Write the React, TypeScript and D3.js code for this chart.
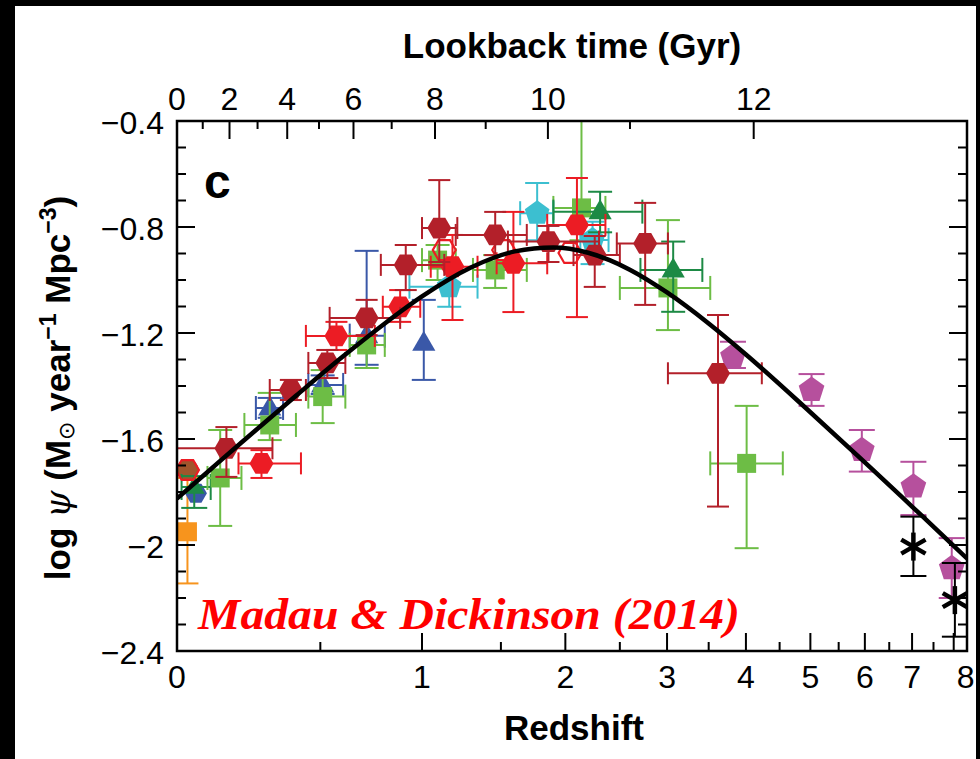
import React from "react";
import * as d3 from "d3";

// ---------------- data ----------------
// rows: [z, logPsi, zLo, zHi, logPsiLo, logPsiHi]; null = no bar
type Row = (number | null)[];

const gruppioni13: Row[] = [
  [0.15, -1.635, 0.0, 0.31, -1.743, -1.555],
  [0.38, -1.415, 0.30, 0.44, -1.453, -1.377],
  [0.53, -1.313, 0.45, 0.61, -1.370, -1.264],
  [0.71, -1.143, 0.54, 0.88, -1.208, -1.075],
  [0.91, -0.943, 0.78, 1.13, -1.038, -0.868],
  [1.10, -0.804, 1.00, 1.21, -0.932, -0.623],
  [1.46, -0.830, 1.20, 1.69, -0.906, -0.743],
  [1.86, -0.855, 1.55, 2.30, -0.932, -0.796],
  [2.26, -0.906, 2.07, 2.50, -1.026, -0.834],
  [2.76, -0.862, 2.47, 3.01, -1.094, -0.709],
  [3.62, -1.352, 3.01, 4.23, -1.855, -1.132],
];

const magnelli13: Row[] = [
  [0.27, -1.692, 0.19, 0.42, -1.747, -1.642],
  [0.57, -1.211, 0.44, 0.75, -1.264, -1.158],
  [0.88, -1.101, 0.79, 0.99, -1.158, -1.038],
  [1.18, -0.950, 1.05, 1.34, -1.151, -0.830],
  [1.59, -0.937, 1.47, 1.85, -1.121, -0.743],
  [2.10, -0.792, 1.85, 2.36, -1.140, -0.615],
];

const magnelli11: Row[] = [
  [0.03, -1.717, null, null, null, null],
  [1.13, -0.887, null, null, null, null],
  [1.52, -0.887, null, null, null, null],
  [2.04, -0.898, null, null, null, null],
];

const sanders03: Row[] = [[0.03, -1.717, null, null, null, null]];

const takeuchi05: Row[] = [[0.03, -1.950, null, null, -2.145, -1.747]];

const wyder05: Row[] = [[0.055, -1.805, null, null, null, null]];

const robotham11: Row[] = [[0.05, -1.781, 0.013, 0.1, -1.860, -1.74]];

const cucciati12: Row[] = [
  [0.13, -1.747, 0.09, 0.20, -1.928, -1.566],
  [0.30, -1.547, 0.21, 0.40, -1.604, -1.426],
  [0.51, -1.440, 0.45, 0.61, -1.540, -1.340],
  [0.71, -1.245, 0.63, 0.80, -1.332, -1.143],
  [1.09, -0.925, 1.00, 1.20, -1.000, -0.868],
  [1.46, -0.962, 1.31, 1.69, -1.030, -0.906],
  [2.14, -0.728, 1.90, 2.36, -0.850, -0.300],
  [3.01, -1.030, 2.50, 3.52, -1.189, -0.774],
  [4.01, -1.692, 3.52, 4.55, -2.012, -1.475],
];

const reddy09: Row[] = [
  [2.31, -0.742, 1.90, 2.73, -0.820, -0.667],
  [3.07, -0.962, 2.71, 3.42, -1.120, -0.855],
];

const schiminovich05: Row[] = [
  [0.30, -1.483, 0.25, 0.35, -1.520, -1.445],
  [0.51, -1.396, 0.45, 0.60, -1.430, -1.360],
  [0.71, -1.210, 0.63, 0.80, -1.320, -0.890],
  [1.01, -1.238, null, null, -1.377, -1.075],
];

const dahlen07: Row[] = [
  [1.16, -1.025, 0.93, 1.34, -1.101, -0.947],
  [1.77, -0.748, 1.64, 1.90, -0.850, -0.634],
  [2.24, -0.849, 2.13, 2.39, -0.940, -0.780],
];

const bouwens12: Row[] = [
  [3.82, -1.289, null, null, -1.332, -1.233],
  [5.02, -1.415, null, null, -1.475, -1.355],
  [5.94, -1.642, null, null, -1.723, -1.566],
  [7.03, -1.780, null, null, -1.887, -1.686],
  [7.95, -2.088, null, null, -2.200, -1.974],
];

const schenker13: Row[] = [
  [7.03, -2.006, null, null, -2.117, -1.893],
  [8.03, -2.208, null, null, -2.346, -2.068],
];

// best-fit curve, points: [z, logPsi]
const fitCurve: [number, number][] = [
  [0, -1.825], [0.1, -1.714], [0.2, -1.613], [0.4, -1.437], [0.6, -1.288],
  [0.8, -1.164], [1.0, -1.062], [1.3, -0.952], [1.45, -0.916], [1.6, -0.892],
  [1.9, -0.877], [2.2, -0.897], [2.4, -0.925], [2.6, -0.961], [3.0, -1.047],
  [3.5, -1.164], [4, -1.281], [5, -1.499], [6, -1.688], [7, -1.855],
  [8, -2.003], [8.345, -2.051],
];

const zTicksMajor = [0, 1, 2, 3, 4, 5, 6, 7, 8];
const zTicksMinor = [0.5, 1.5, 2.5, 3.5, 4.5, 5.5, 6.5, 7.5];
const yTicksMajor = [-0.4, -0.8, -1.2, -1.6, -2, -2.4];
const yTickLabels = ["\u22120.4", "\u22120.8", "\u22121.2", "\u22121.6", "\u22122", "\u22122.4"];
const gyrTicksMajor = [0, 2, 4, 6, 8, 10, 12];
const gyrTicksMinor = [1, 3, 5, 7, 9, 11];

// cosmology used for the lookback-time axis
const H0 = 70, Om = 0.3, OL = 0.7;

// ---------------- scales ----------------
const W = 980, H = 759;
const P = { left: 177, right: 967, top: 121, bottom: 651 };
const zMax = 8.345;
const xs = d3.scaleLog().domain([1, 1 + zMax]).range([P.left, P.right]);
const X = (z: number) => xs(1 + z);
const Y = d3.scaleLinear().domain([-2.4, -0.4]).range([P.bottom, P.top]);

const tH = 977.8 / H0;
function lookback(z: number) {
  const n = 400;
  const h = z / n;
  let s = 0;
  for (let i = 0; i <= n; i++) {
    const zz = i * h;
    const f = 1 / ((1 + zz) * Math.sqrt(Om * Math.pow(1 + zz, 3) + OL));
    s += i === 0 || i === n ? f : i % 2 ? 4 * f : 2 * f;
  }
  return (tH * s * h) / 3;
}
function zAtLookback(t: number) {
  let lo = 0, hi = 30;
  for (let k = 0; k < 60; k++) {
    const m = (lo + hi) / 2;
    if (lookback(m) < t) lo = m; else hi = m;
  }
  return (lo + hi) / 2;
}

// ---------------- shapes ----------------
const poly = (pts: number[][]) => "M" + pts.map((p) => p[0].toFixed(2) + "," + p[1].toFixed(2)).join("L") + "Z";
const hexagon = (r: number) => poly(d3.range(6).map((i) => [r * Math.cos((i * Math.PI) / 3), r * Math.sin((i * Math.PI) / 3)]));
const pentagon = (r: number) =>
  poly(d3.range(5).map((i) => {
    const a = -Math.PI / 2 + (i * 2 * Math.PI) / 5;
    return [r * Math.cos(a), r * Math.sin(a)];
  }));
const triangle = (s: number) => poly([[0, -s * 0.62], [s * 0.58, s * 0.38], [-s * 0.58, s * 0.38]]);
const square = (s: number) => poly([[-s / 2, -s / 2], [s / 2, -s / 2], [s / 2, s / 2], [-s / 2, s / 2]]);

const C = {
  darkRed: "#b3202a",
  red: "#ec1c24",
  green: "#6dbd45",
  dkGreen: "#1d8a45",
  blue: "#3a58a8",
  cyan: "#3cbfd0",
  magenta: "#b6509d",
  orange: "#f7941d",
  brown: "#a0552c",
  black: "#000000",
};

type Series = { data: Row[]; color: string; shape: string; size: number; fill: boolean; cap: number };
const series: Series[] = [
  { data: takeuchi05, color: C.orange, shape: "square", size: 19, fill: true, cap: 11 },
  { data: sanders03, color: C.brown, shape: "circle", size: 11, fill: true, cap: 11 },
  { data: wyder05, color: C.blue, shape: "hexagon", size: 11, fill: true, cap: 11 },
  { data: robotham11, color: C.dkGreen, shape: "triangle", size: 18, fill: true, cap: 13 },
  { data: schiminovich05, color: C.blue, shape: "triangle", size: 20, fill: true, cap: 12 },
  { data: cucciati12, color: C.green, shape: "square", size: 19, fill: true, cap: 12 },
  { data: dahlen07, color: C.cyan, shape: "pentagon", size: 13, fill: true, cap: 12 },
  { data: reddy09, color: C.dkGreen, shape: "triangle", size: 20, fill: true, cap: 12 },
  { data: bouwens12, color: C.magenta, shape: "pentagon", size: 13.5, fill: true, cap: 13 },
  { data: schenker13, color: C.black, shape: "star", size: 14, fill: true, cap: 13 },
  { data: magnelli11, color: C.red, shape: "hexagon", size: 11.5, fill: false, cap: 11 },
  { data: magnelli13, color: C.red, shape: "hexagon", size: 12, fill: true, cap: 11 },
  { data: gruppioni13, color: C.darkRed, shape: "hexagon", size: 12, fill: true, cap: 11 },
];

function Marker({ s, cx, cy }: { s: Series; cx: number; cy: number }) {
  const t = `translate(${cx},${cy})`;
  if (s.shape === "circle")
    return <circle cx={cx} cy={cy} r={s.size} fill={s.color} />;
  if (s.shape === "star") {
    const r = s.size;
    return (
      <g transform={t} stroke={s.color} strokeWidth={4.5} strokeLinecap="butt">
        {[90, 30, 150].map((a) => {
          const rad = (a * Math.PI) / 180;
          return <line key={a} x1={-r * Math.cos(rad)} y1={-r * Math.sin(rad)} x2={r * Math.cos(rad)} y2={r * Math.sin(rad)} />;
        })}
      </g>
    );
  }
  let d = "";
  if (s.shape === "hexagon") d = hexagon(s.size);
  else if (s.shape === "pentagon") d = pentagon(s.size);
  else if (s.shape === "triangle") d = triangle(s.size);
  else d = square(s.size);
  return (
    <path
      d={d}
      transform={t}
      fill={s.fill ? s.color : "none"}
      stroke={s.color}
      strokeWidth={s.fill ? 0 : 2.2}
    />
  );
}

function ErrorBars({ s }: { s: Series }) {
  const els: React.ReactNode[] = [];
  s.data.forEach((r, i) => {
    const cx = X(r[0] as number), cy = Y(r[1] as number);
    if (r[4] != null && r[5] != null) {
      const y1 = Y(r[4] as number), y2 = Y(r[5] as number);
      els.push(<line key={`v${i}`} x1={cx} x2={cx} y1={y1} y2={y2} />);
      els.push(<line key={`vc1${i}`} x1={cx - s.cap} x2={cx + s.cap} y1={y1} y2={y1} />);
      els.push(<line key={`vc2${i}`} x1={cx - s.cap} x2={cx + s.cap} y1={y2} y2={y2} />);
    }
    if (r[2] != null && r[3] != null) {
      const x1 = X(r[2] as number), x2 = X(r[3] as number);
      els.push(<line key={`h${i}`} x1={x1} x2={x2} y1={cy} y2={cy} />);
      els.push(<line key={`hc1${i}`} x1={x1} x2={x1} y1={cy - s.cap} y2={cy + s.cap} />);
      els.push(<line key={`hc2${i}`} x1={x2} x2={x2} y1={cy - s.cap} y2={cy + s.cap} />);
    }
  });
  return <g stroke={s.color} strokeWidth={2} fill="none">{els}</g>;
}

export default function App() {
  const tickFont = "'Liberation Sans Narrow', 'Arial Narrow', sans-serif";
  const boldFont = "'Liberation Sans', Arial, sans-serif";
  const yMinor = d3.range(-2.4, -0.39, 0.1).map((v) => Math.round(v * 10) / 10);
  const line = d3
    .line<[number, number]>()
    .x((d) => X(d[0]))
    .y((d) => Y(d[1]))
    .curve(d3.curveMonotoneX);

  return (
    <svg width={W} height={H} style={{ position: "absolute", left: 0, top: 0 }} xmlns="http://www.w3.org/2000/svg">
      <defs>
        <clipPath id="plotClip">
          <rect x={P.left} y={P.top} width={P.right - P.left} height={P.bottom - P.top} />
        </clipPath>
      </defs>
      <rect x={0} y={0} width={W} height={H} fill="#fff" />

      {/* data */}
      <g clipPath="url(#plotClip)">
        {series.map((s, i) => (
          <g key={i}>
            <ErrorBars s={s} />
            {s.data.map((r, j) => (
              <Marker key={j} s={s} cx={X(r[0] as number)} cy={Y(r[1] as number)} />
            ))}
          </g>
        ))}
        <path d={line(fitCurve) || ""} fill="none" stroke="#000" strokeWidth={4.5} />
      </g>

      {/* frame */}
      <rect x={P.left} y={P.top} width={P.right - P.left} height={P.bottom - P.top} fill="none" stroke="#000" strokeWidth={2.5} />

      {/* y ticks left & right */}
      <g stroke="#000" strokeWidth={2}>
        {yMinor.map((v) => {
          const major = yTicksMajor.some((m) => Math.abs(m - v) < 1e-6);
          const len = major ? 18 : 9;
          return (
            <g key={v}>
              <line x1={P.left} x2={P.left + len} y1={Y(v)} y2={Y(v)} />
              <line x1={P.right} x2={P.right - len} y1={Y(v)} y2={Y(v)} />
            </g>
          );
        })}
        {zTicksMajor.map((z) => (
          <line key={"zM" + z} x1={X(z)} x2={X(z)} y1={P.bottom} y2={P.bottom - 18} />
        ))}
        {zTicksMinor.map((z) => (
          <line key={"zm" + z} x1={X(z)} x2={X(z)} y1={P.bottom} y2={P.bottom - 9} />
        ))}
        {gyrTicksMajor.map((t) => (
          <line key={"gM" + t} x1={X(zAtLookback(t))} x2={X(zAtLookback(t))} y1={P.top} y2={P.top + 18} />
        ))}
        {gyrTicksMinor.map((t) => (
          <line key={"gm" + t} x1={X(zAtLookback(t))} x2={X(zAtLookback(t))} y1={P.top} y2={P.top + 8} />
        ))}
      </g>

      {/* tick labels */}
      <g fontFamily={tickFont} fontSize={32} fill="#000">
        {yTicksMajor.map((v, i) => (
          <text key={v} x={P.left - 13} y={Y(v) + 13} textAnchor="end">{yTickLabels[i]}</text>
        ))}
        {zTicksMajor.map((z) => (
          <text key={z} x={z === 8 ? X(z) + 12 : X(z)} y={688} textAnchor="middle">{z}</text>
        ))}
        {gyrTicksMajor.map((t) => (
          <text key={t} x={X(zAtLookback(t))} y={110} textAnchor="middle">{t}</text>
        ))}
      </g>

      {/* axis titles */}
      <text x={572} y={58} textAnchor="middle" fontFamily={boldFont} fontWeight="bold" fontSize={35}>Lookback time (Gyr)</text>
      <text x={574} y={740} textAnchor="middle" fontFamily={boldFont} fontWeight="bold" fontSize={35}>Redshift</text>
      <text transform="translate(70,388) rotate(-90)" textAnchor="middle" fontFamily={boldFont} fontWeight="bold" fontSize={35}>
        log <tspan fontFamily="'DejaVu Serif', serif" fontStyle="italic" fontWeight="normal">{"\u03C8"}</tspan> (M
        <tspan fontSize={22} dy={4} fontWeight="normal" fontFamily="'DejaVu Sans', sans-serif">{"\u2299"}</tspan>
        <tspan dy={-4}> year</tspan>
        <tspan fontSize={23} dy={-14}>{"\u22121"}</tspan>
        <tspan dy={14}> Mpc</tspan>
        <tspan fontSize={23} dy={-14}>{"\u22123"}</tspan>
        <tspan dy={14}>)</tspan>
      </text>

      {/* panel letter */}
      <text x={204} y={198} fontFamily={boldFont} fontWeight="bold" fontSize={48}>c</text>

      {/* citation */}
      <text x={198} y={629} fontFamily="'Liberation Serif', 'Times New Roman', serif" fontWeight="bold" fontStyle="italic" fontSize={45} fill="#ff0000" textLength={542} lengthAdjust="spacingAndGlyphs">
        Madau &amp; Dickinson (2014)
      </text>

      {/* black surround */}
      <rect x={0} y={0} width={15} height={H} fill="#000" />
      <rect x={0} y={0} width={W} height={6} fill="#000" />
      <rect x={976} y={0} width={4} height={H} fill="#000" />
    </svg>
  );
}
